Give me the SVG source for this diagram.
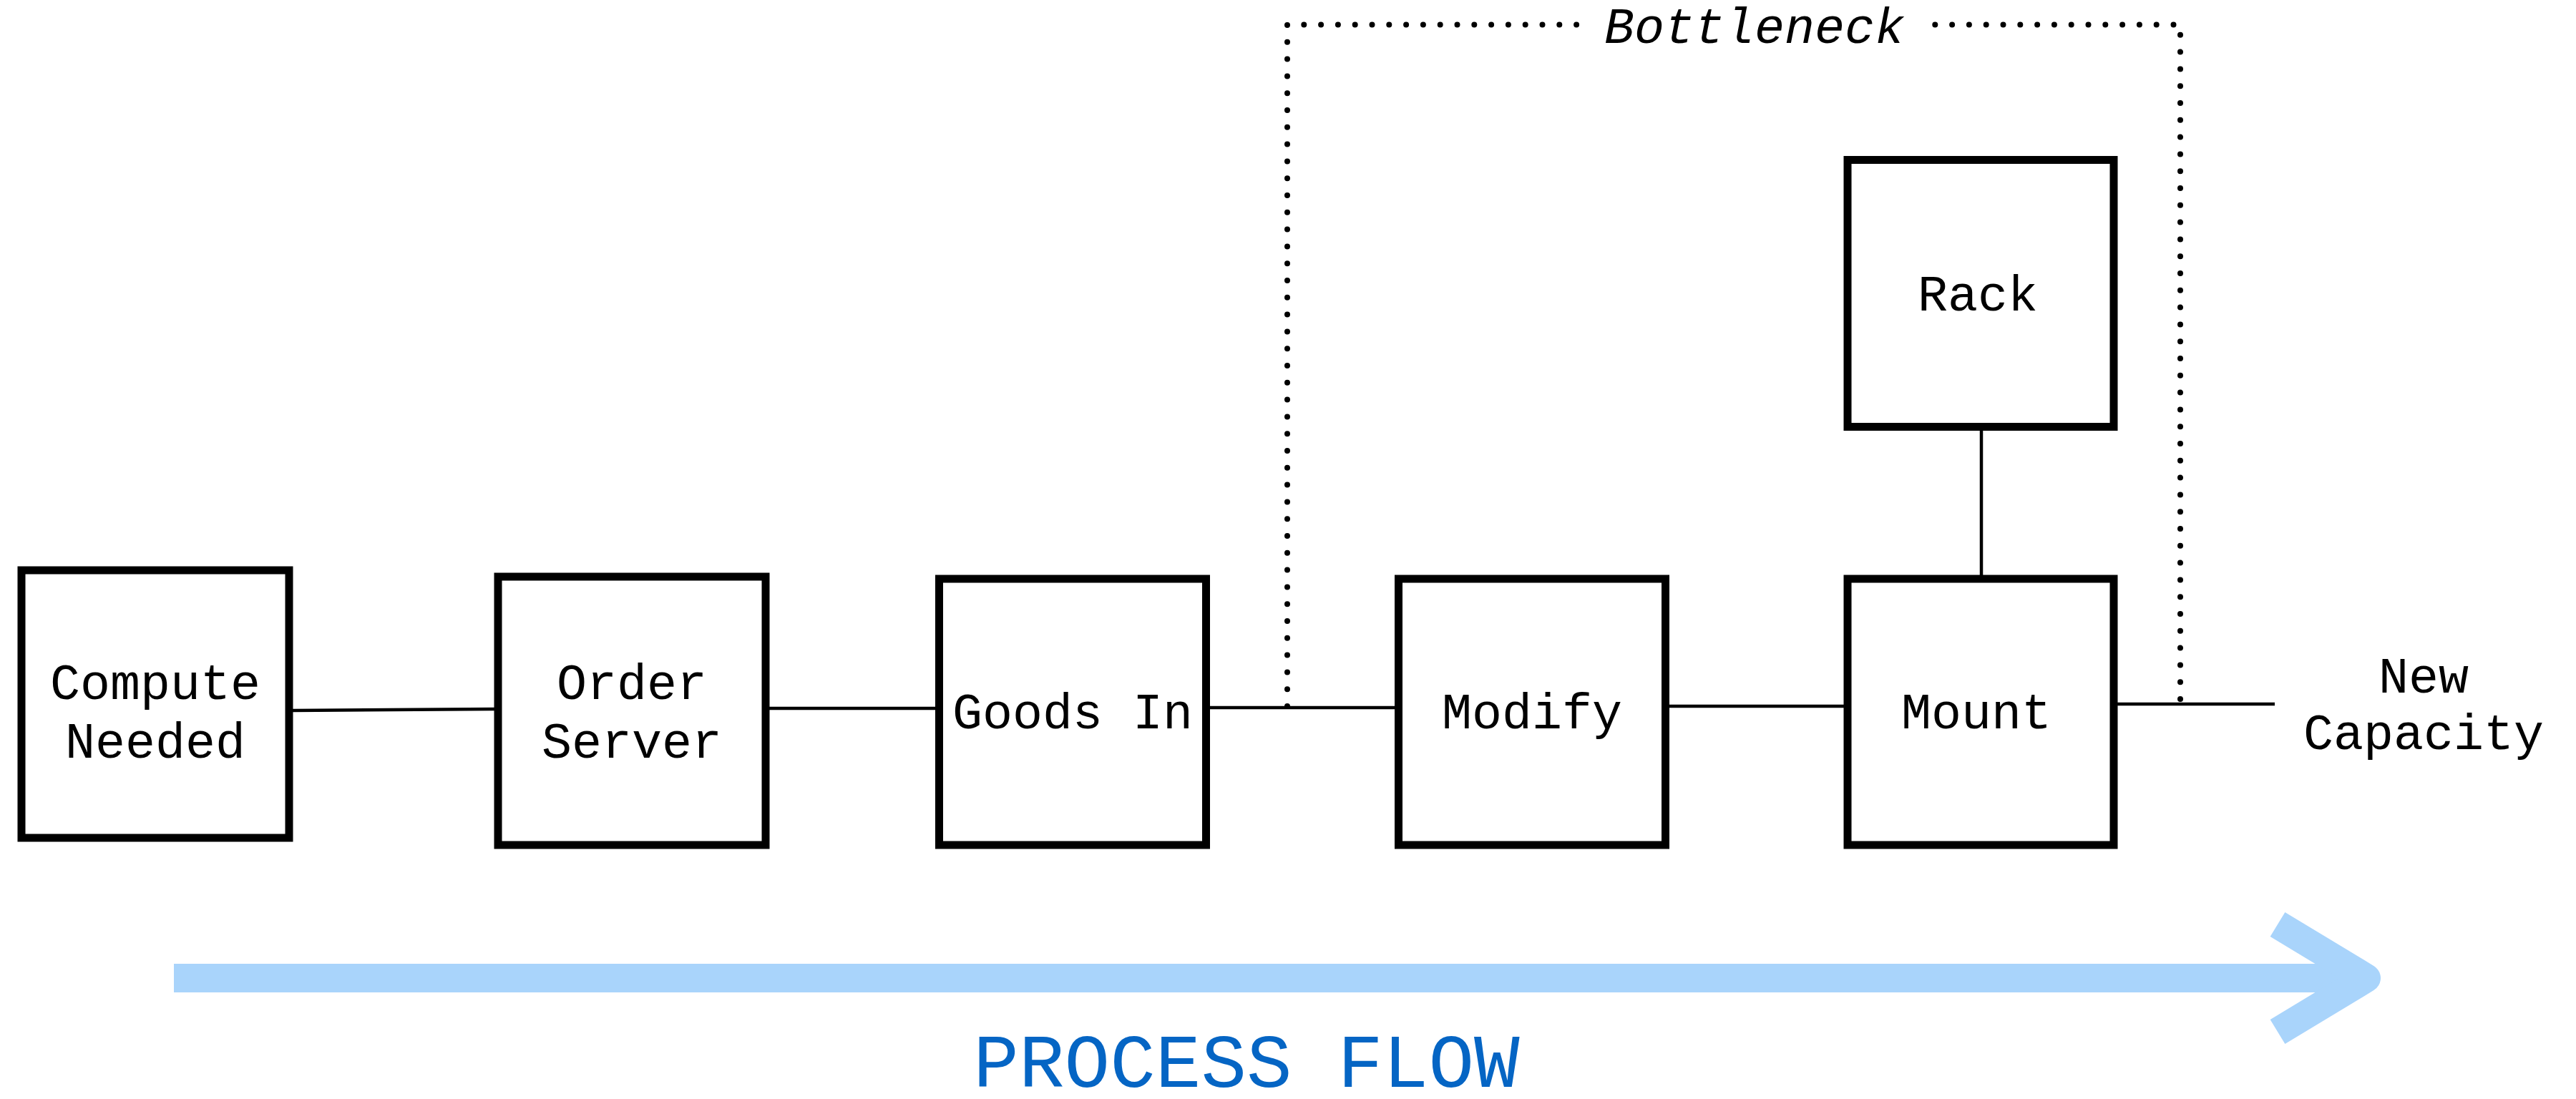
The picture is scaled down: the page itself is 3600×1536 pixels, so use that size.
<svg xmlns="http://www.w3.org/2000/svg" width="3600" height="1536" viewBox="0 0 3600 1536">
<style>
.box{fill:#fff;stroke:#000;stroke-width:11}
.lbl{font-family:"Liberation Mono","Courier New",monospace;font-size:70px;fill:#000;text-anchor:middle}
.conn{fill:none;stroke:#000;stroke-width:4.5}
.dot{fill:none;stroke:#000;stroke-width:8;stroke-linecap:round;stroke-dasharray:0 23.8}
.flow{fill:none;stroke:#a9d4fb;stroke-width:40}
</style>
<rect width="3600" height="1536" fill="#fff"/>
<g id="connectors">
<path class="conn" d="M409,993 L691,991"/>
<path class="conn" d="M1075,990 L1307,990"/>
<path class="conn" d="M1690,989 L1949,989"/>
<path class="conn" d="M2332,987 L2577,987"/>
<path class="conn" d="M2959,984 L3179,984"/>
<path class="conn" d="M2769,601 V804"/>
</g>
<g id="bottleneck">
<path class="dot" d="M1799,987 V34.5 H2218"/>
<path class="dot" d="M3047,977 V34.5 H2697"/>
<text x="2452" y="60" class="lbl" font-style="italic">Bottleneck</text>
</g>
<g id="compute-needed">
<rect class="box" x="30" y="797" width="374" height="374"/>
<text class="lbl" x="217" y="977">Compute</text>
<text class="lbl" x="217" y="1059">Needed</text>
</g>
<g id="order-server">
<rect class="box" x="696" y="806" width="374" height="375"/>
<text class="lbl" x="883" y="977">Order</text>
<text class="lbl" x="883" y="1059">Server</text>
</g>
<g id="goods-in">
<rect class="box" x="1312.5" y="809" width="373" height="372"/>
<text class="lbl" x="1499" y="1018">Goods In</text>
</g>
<g id="modify">
<rect class="box" x="1954.5" y="809" width="373" height="372"/>
<text class="lbl" x="2141" y="1018">Modify</text>
</g>
<g id="rack">
<rect class="box" x="2582" y="223.5" width="372" height="373"/>
<text class="lbl" x="2764" y="434">Rack</text>
</g>
<g id="mount">
<rect class="box" x="2582" y="809" width="372" height="372"/>
<text class="lbl" x="2762" y="1018">Mount</text>
</g>
<g id="new-capacity">
<text class="lbl" x="3387" y="968">New</text>
<text class="lbl" x="3387" y="1047">Capacity</text>
</g>
<g id="process-flow">
<path class="flow" d="M243,1367 H3290"/>
<path class="flow" d="M3183,1292 L3307,1367 L3183,1442" stroke-linejoin="round"/>
<text x="1742" y="1519" font-family="Liberation Mono,Courier New,monospace" font-size="106" fill="#0565c4" text-anchor="middle">PROCESS FLOW</text>
</g>
</svg>
